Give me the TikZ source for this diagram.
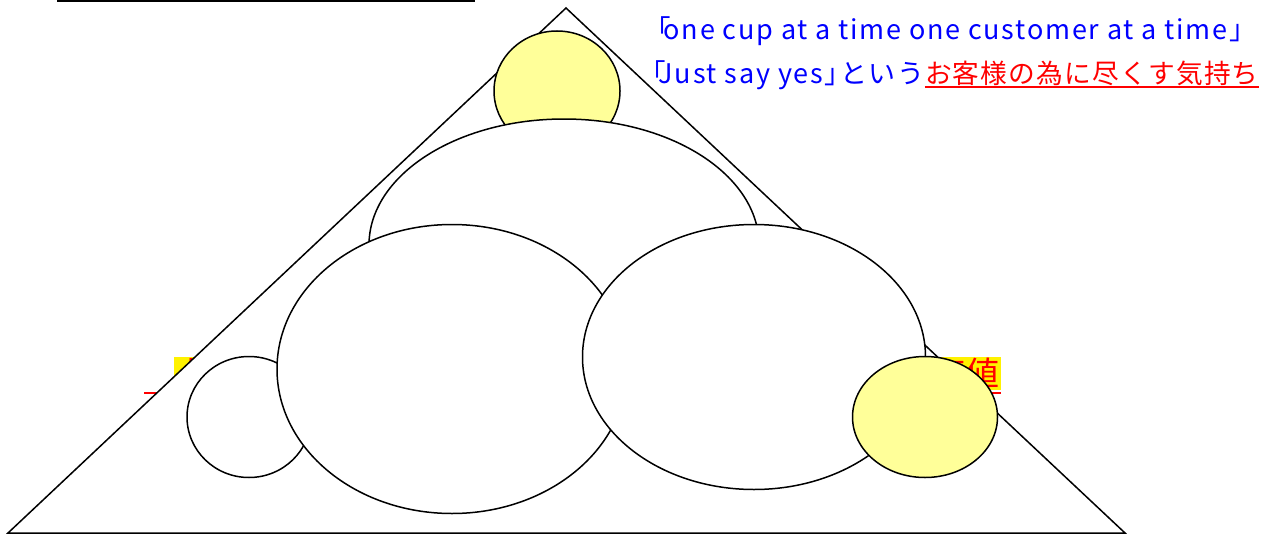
\documentclass[tikz,border=0pt]{standalone}
\usepackage{fontspec}
\setmainfont{Noto Sans CJK JP}
\newfontfamily\spaced{Noto Sans CJK JP}[LetterSpace=4.5]
\newfontfamily\wide{Noto Sans CJK JP}[LetterSpace=6.5]
\usetikzlibrary{shapes.geometric, positioning}

\definecolor{pale}{RGB}{255,255,153}
\definecolor{blu}{RGB}{0,0,255}

\begin{document}
\begin{tikzpicture}[x=1pt,y=-1pt,
  oval/.style={ellipse,draw,line width=1.5pt,fill=white,inner sep=0pt},
  hilite/.style={fill=yellow,text=red,inner sep=1pt,font=\fontsize{34pt}{40pt}\selectfont},
  motto/.style={text=blu,inner sep=0pt,font=\wide\fontsize{27pt}{32pt}\selectfont}]
  \useasboundingbox (0,0) rectangle (1263,535);
  % rule at the top left
  \draw[line width=2.5pt] (57,0.5) -- (475,0.5);
  % labels behind the triangle
  \node[hilite,anchor=north west] (lefttag) at (174,357) {上};
  \draw[red,line width=2.5pt] (144,393) -- (lefttag.south east |- 0,393);
  \node[hilite,anchor=north east] (righttag) at (1001,357) {価値};
  \draw[red,line width=2.5pt] (righttag.west |- 0,393) -- (1001,393);
  % triangle
  \coordinate (apex) at (566,8);
  \coordinate (bl) at (8,533);
  \coordinate (br) at (1125,533);
  \filldraw[fill=white,line width=1.5pt,line join=miter] (apex) -- (bl) -- (br) -- cycle;
  % ovals
  \node[oval,fill=pale,minimum width=126,minimum height=120] (cup) at (557,91) {};
  \node[oval,minimum width=390,minimum height=252] (upper) at (564,245) {};
  \node[oval,minimum width=124,minimum height=121] (small) at (249,417) {};
  \node[oval,minimum width=350,minimum height=289] (midleft) at (452,369) {};
  \node[oval,minimum width=343,minimum height=265] (midright) at (754,357) {};
  \node[oval,fill=pale,minimum width=145,minimum height=121] (gold) at (925,417) {};
  % texts at the top right
  \node[motto,anchor=base west] (cupline) at (657,40) {｢\kern-7pt one cup at a time one customer at a time｣};
  \node[motto,anchor=base west] (yesline) at (652,84) {｢\kern-7pt Just say yes｣という};
  \node[motto,text=red,font=\spaced\fontsize{26.7pt}{32pt}\selectfont,anchor=base west] (care) at (yesline.base east) {お客様の為に尽くす気持ち};
  \draw[red,line width=2.5pt] ([yshift=-3pt]care.base west) -- ([yshift=-3pt]care.base east);
\end{tikzpicture}
\end{document}
